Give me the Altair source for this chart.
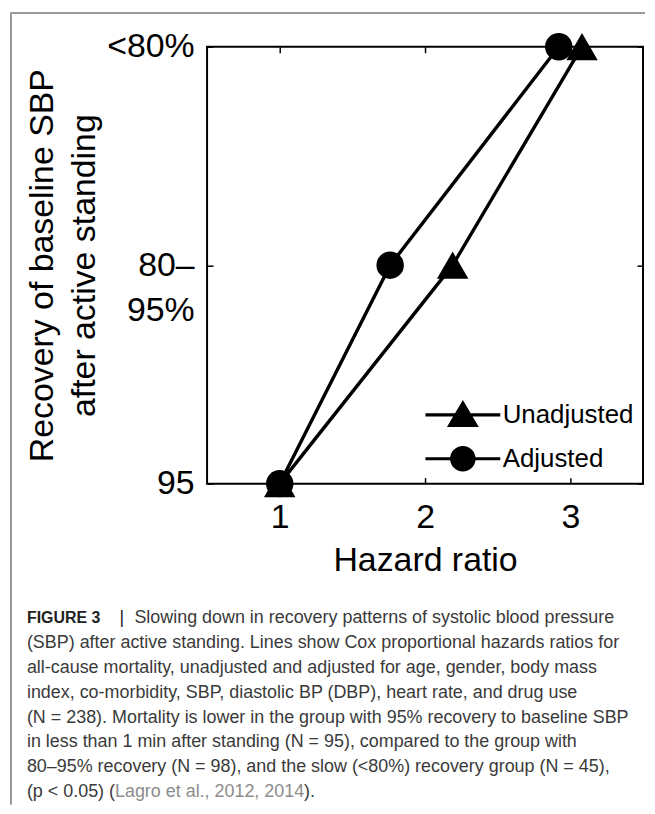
import altair as alt
import pandas as pd

# ---------------- data ----------------
levels = ["95", "80–95%", "<80%"]          # bottom -> top
level_pos = [0, 1, 2]
level_label_lines = [["95"], ["80–", "95%"], ["<80%"]]
series_names = ["Unadjusted", "Adjusted"]
unadjusted_hr = [1.0, 2.19, 3.08]
adjusted_hr = [1.0, 1.76, 2.92]
x_ticks = [1, 2, 3]

caption_bold = "FIGURE 3"
caption_sep = "|"
caption_lines = [
    "Slowing down in recovery patterns of systolic blood pressure",
    "(SBP) after active standing. Lines show Cox proportional hazards ratios for",
    "all-cause mortality, unadjusted and adjusted for age, gender, body mass",
    "index, co-morbidity, SBP, diastolic BP (DBP), heart rate, and drug use",
    "(N = 238). Mortality is lower in the group with 95% recovery to baseline SBP",
    "in less than 1 min after standing (N = 95), compared to the group with",
    "80–95% recovery (N = 98), and the slow (<80%) recovery group (N = 45),",
    "(p < 0.05) (",
]
caption_cite = "Lagro et al., 2012, 2014"
caption_end = ")."

rows = []
for name, vals in zip(series_names, [unadjusted_hr, adjusted_hr]):
    for lv, p, v in zip(levels, level_pos, vals):
        rows.append({"series": name, "level": lv, "pos": p, "hr": v})
df = pd.DataFrame(rows)


def js(v):
    if len(v) == 1:
        return "'" + v[0] + "'"
    return "[" + ",".join("'" + s + "'" for s in v) + "]"


label_expr = " : ".join(
    f"datum.value == {p} ? {js(l)}" for p, l in zip(level_pos[:-1], level_label_lines[:-1])
) + " : " + js(level_label_lines[-1])

xscale = alt.Scale(domain=[0.5, 3.5], nice=False, zero=False)
yscale = alt.Scale(domain=[0, 2], nice=False, zero=False)

W, H = 438, 439
PLOT_LEFT, PLOT_TOP = 206, 43
FRAME_LEFT, FRAME_TOP, FRAME_RIGHT, FRAME_BOTTOM = 9, 9, 646, 804
CAPTION_TOP = 617
FONT = "Liberation Sans"

# legend symbols: bar through marker, all filled (unit = 16 px)
tri_path = "M-2.35,-0.1H2.35V0.1H-2.35ZM0,-0.94L1,0.75L-1,0.75Z"
circ_path = ("M-2.35,-0.1H2.35V0.1H-2.35Z"
             "M-0.8,0A0.8,0.8,0,1,1,0.8,0A0.8,0.8,0,1,1,-0.8,0Z")

base = alt.Chart(df)

lines = base.mark_line(color="black", strokeWidth=3.4).encode(
    x=alt.X("hr:Q", scale=xscale,
            axis=alt.Axis(orient="bottom", values=x_ticks, ticks=False, domain=False,
                          labelPadding=17, title="Hazard ratio", titlePadding=9,
                          labelFlush=False)),
    y=alt.Y("pos:Q", scale=yscale,
            axis=alt.Axis(orient="left", values=level_pos, ticks=False, domain=False,
                          labelExpr=label_expr, labelPadding=13, labelLineHeight=46,
                          labelFlush=False, labelOverlap=False,
                          title=["Recovery of baseline SBP", "after active standing"],
                          titlePadding=5, titleLineHeight=42)),
    detail="series:N",
    order=alt.Order("pos:Q"),
)

points = base.mark_point(filled=True, color="black", strokeWidth=0, opacity=1).encode(
    x=alt.X("hr:Q", scale=xscale,
            axis=alt.Axis(orient="bottom", values=x_ticks, offset=-6, tickSize=6,
                          tickWidth=1.5, tickColor="black", labels=False, domain=False,
                          title=None)),
    y=alt.Y("pos:Q", scale=yscale,
            axis=alt.Axis(orient="left", values=level_pos, offset=-6, tickSize=6,
                          tickWidth=1.5, tickColor="black", labels=False, domain=False,
                          title=None)),
    shape=alt.Shape("series:N", scale=alt.Scale(domain=series_names, range=["triangle-up", "circle"]),
                    legend=None),
    size=alt.Size("series:N", scale=alt.Scale(domain=series_names, range=[1000, 760]), legend=None),
)

legend_layer = base.mark_point(filled=True, color="black", strokeWidth=0).encode(
    x=alt.X("hr:Q", scale=xscale,
            axis=alt.Axis(orient="top", values=x_ticks, offset=-6, tickSize=6,
                          tickWidth=1.5, tickColor="black", labels=False, domain=False,
                          title=None)),
    y=alt.Y("pos:Q", scale=yscale,
            axis=alt.Axis(orient="right", values=level_pos, offset=-6, tickSize=6,
                          tickWidth=1.5, tickColor="black", labels=False, domain=False,
                          title=None)),
    shape=alt.Shape("series:N", scale=alt.Scale(domain=series_names, range=[tri_path, circ_path]),
                    legend=alt.Legend(orient="none", legendX=241, legendY=354, title=None,
                                      symbolSize=1024, symbolOpacity=1,
                                      symbolFillColor="black", symbolStrokeWidth=0,
                                      labelFont=FONT, labelFontSize=26,
                                      labelColor="black", labelOffset=24,
                                      rowPadding=15, padding=0, labelLimit=0)),
    opacity=alt.value(0),
)

# figure border (top and left edges of the journal figure box)
frame_top = alt.Chart(df).mark_rule(color="#9a9a9a", strokeWidth=1.3).encode(
    x=alt.value(FRAME_LEFT - PLOT_LEFT), x2=alt.value(FRAME_RIGHT - PLOT_LEFT),
    y=alt.value(FRAME_TOP - PLOT_TOP),
)
frame_left = alt.Chart(df).mark_rule(color="#9a9a9a", strokeWidth=1.3).encode(
    x=alt.value(FRAME_LEFT - PLOT_LEFT),
    y=alt.value(FRAME_TOP - PLOT_TOP), y2=alt.value(FRAME_BOTTOM - PLOT_TOP),
)

plot = alt.layer(frame_top, frame_left, lines, points, legend_layer).resolve_scale(
    shape="independent"
).resolve_axis(x="independent", y="independent").properties(
    width=W, height=H, view=alt.ViewBackground(stroke="black", strokeWidth=2)
)

# ---------------- caption ----------------
TXT = "#3a3a3a"
CAP_X = 25 - PLOT_LEFT
cap_y = alt.Scale(domain=[0, 7], reverse=True, nice=False, zero=False)
cap_rows = pd.DataFrame({"line": list(range(len(caption_lines))), "text": caption_lines})


def cap_layer(data, dx, **kw):
    return alt.Chart(data).mark_text(align="left", baseline="middle", dx=dx, **kw).encode(
        x=alt.value(CAP_X),
        y=alt.Y("line:Q", scale=cap_y, axis=None),
        text="text:N",
    )


last = len(caption_lines) - 1
first = cap_rows[cap_rows.line == 0]
rest = cap_rows[cap_rows.line > 0]
bold_df = pd.DataFrame({"line": [0], "text": [caption_bold]})
sep_df = pd.DataFrame({"line": [0], "text": [caption_sep]})
cite_df = pd.DataFrame({"line": [last], "text": [caption_cite]})
end_df = pd.DataFrame({"line": [last], "text": [caption_end]})

caption = alt.layer(
    cap_layer(bold_df, 0, font=FONT, fontSize=16, fontWeight="bold", color="#222222"),
    cap_layer(sep_df, 93, font=FONT, fontSize=18, color="#222222"),
    cap_layer(first, 108, font=FONT, fontSize=18, color=TXT),
    cap_layer(rest, 0, font=FONT, fontSize=18, color=TXT),
    cap_layer(cite_df, 88.5, font=FONT, fontSize=18, color="#8c8c8c"),
    cap_layer(end_df, 278.5, font=FONT, fontSize=18, color=TXT),
).properties(width=W, height=175)

chart = alt.vconcat(plot, caption, spacing=CAPTION_TOP - (PLOT_TOP + H), bounds="flush").properties(
    padding={"left": 1, "top": 1, "right": 0, "bottom": 0}
).configure_view(stroke="transparent").configure_axis(
    labelFont=FONT, labelFontSize=34, labelColor="black",
    titleFont=FONT, titleFontSize=34, titleFontWeight="normal", titleColor="black",
    grid=False,
)

chart.save("out.html", embed_options={"renderer": "svg", "actions": False})
